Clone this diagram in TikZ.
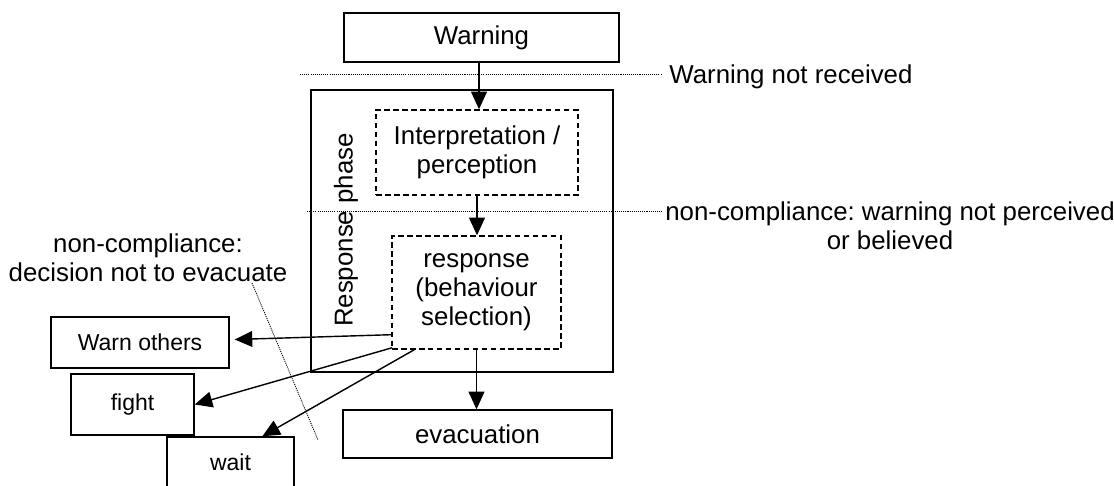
\documentclass[tikz,border=0pt]{standalone}
\usepackage{fontspec}
\setmainfont{Liberation Sans}
\usetikzlibrary{arrows.meta,calc}

\begin{document}
\frenchspacing
\begin{tikzpicture}[x=0.02cm,y=-0.02cm,
  txt/.style={font=\fontsize{14.7}{16.6}\selectfont},
  smalltxt/.style={font=\fontsize{13.1}{15}\selectfont},
  solidbox/.style={draw,line width=0.8pt,inner sep=0pt,align=center},
  dashbox/.style={draw,line width=0.8pt,inner sep=0pt,align=center,
    dash pattern=on 3.2pt off 1.9pt},
  limit/.style={line width=0.5pt,dash pattern=on 0.6pt off 0.6pt},
  arr/.style={line width=0.8pt,-{Triangle[length=10pt,width=9pt]}}]
\useasboundingbox (0,0) rectangle (1114,486);
\clip (0,0) rectangle (1114,486);

% main chain
\node[solidbox,txt,minimum width=275*0.02cm,minimum height=49*0.02cm] (warning) at (481.5,37.5) {Warning};
\node[solidbox,minimum width=302*0.02cm,minimum height=282*0.02cm] (phase) at (462,231) {};
\node[txt,rotate=90] (phaselabel) at (346,230) {Response phase};
\node[dashbox,txt,minimum width=202*0.02cm,minimum height=85*0.02cm] (interp) at (477,152.5) {Interpretation /\\perception};
\node[dashbox,txt,minimum width=169*0.02cm,minimum height=113*0.02cm] (resp) at (476.5,292.5) {response\\(behaviour\\selection)};
\node[solidbox,txt,minimum width=269*0.02cm,minimum height=48*0.02cm] (evac) at (477.5,434) {evacuation};

% alternative behaviours
\node[solidbox,smalltxt,minimum width=178*0.02cm,minimum height=51*0.02cm] (warnothers) at (140,342.5) {Warn others};
\node[solidbox,smalltxt,minimum width=123*0.02cm,minimum height=61*0.02cm] (fight) at (132.5,404.5) {fight};
\node[solidbox,smalltxt,minimum width=127*0.02cm,minimum height=70*0.02cm,text depth=0pt] (wait) at (230.5,472) {};
\node[smalltxt] (waitlabel) at (230.5,462) {wait};

% threshold lines and their labels
\coordinate (l1a) at (300,74);
\coordinate (l1b) at (662,74);
\coordinate (l2a) at (307,211);
\coordinate (l2b) at (662,211);
\coordinate (d1) at (252,283);
\coordinate (d2) at (318,440);
\draw[limit] (l1a) -- (l1b);
\draw[limit] (l2a) -- (l2b);
\draw[limit] (d1) -- (d2);
\node[txt,anchor=west,inner sep=0pt] (notreceived) at (669,77) {Warning not received};
\node[txt,align=center,anchor=west,inner sep=0pt] (notperceived) at (665,226) {non-compliance: warning not perceived\\or believed};
\node[txt,align=center,inner sep=0pt] (noevac) at (148,258) {non-compliance:\\decision not to evacuate};

% connectors
\draw[arr] (warning.south -| interp.north) ++(2,0) -- ($(interp.north)+(2,0)$);
\draw[arr] (interp.south) -- (interp.south |- resp.north);
\draw[arr] (resp.south) -- (resp.south |- evac.north);
\coordinate (woStart) at ($(resp.south west)+(0,-15)$);
\coordinate (woEnd) at ($(warnothers.east)+(5,-3)$);
\draw[arr] (woStart) -- (woEnd);
\coordinate (fStart) at ($(resp.south west)+(1,-2)$);
\draw[arr] (fStart) -- (fight.east);
\coordinate (wStart) at ($(resp.south west)+(23,0)$);
\coordinate (wEnd) at ($(wait.north west)+(96,0)$);
\draw[arr] (wStart) -- (wEnd);
\end{tikzpicture}
\end{document}
